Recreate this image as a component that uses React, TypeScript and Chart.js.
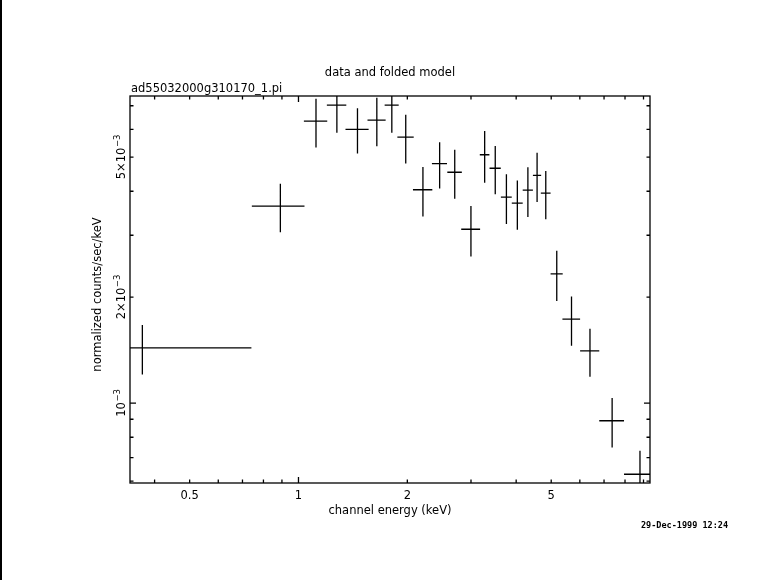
import React, { useEffect, useRef } from "react";
import { Chart, registerables } from "chart.js";
Chart.register(...registerables);

// channel energy (keV), bin centres and half-widths
const energy = [0.37, 0.891, 1.118, 1.277, 1.456, 1.647, 1.812, 1.98, 2.209, 2.457, 2.705, 2.999, 3.273, 3.501, 3.759, 4.03, 4.31, 4.57, 4.83, 5.18, 5.69, 6.4, 7.37, 8.8];
const energyHalfWidth = [0.371, 0.148, 0.083, 0.079, 0.107, 0.095, 0.081, 0.103, 0.136, 0.118, 0.125, 0.18, 0.1, 0.125, 0.13, 0.14, 0.14, 0.12, 0.15, 0.2, 0.32, 0.39, 0.58, 0.85];
// normalized counts/sec/keV and 1-sigma errors
const counts = [1.436e-3, 3.63e-3, 6.33e-3, 7.03e-3, 6.0e-3, 6.37e-3, 7.03e-3, 5.7e-3, 4.04e-3, 4.79e-3, 4.53e-3, 3.12e-3, 5.08e-3, 4.65e-3, 3.85e-3, 3.7e-3, 4.03e-3, 4.44e-3, 3.95e-3, 2.33e-3, 1.733e-3, 1.408e-3, 0.891e-3, 0.628e-3];
const countsError = [0.23e-3, 0.57e-3, 1.0e-3, 1.16e-3, 0.88e-3, 1.0e-3, 1.16e-3, 0.9e-3, 0.65e-3, 0.72e-3, 0.72e-3, 0.51e-3, 0.85e-3, 0.73e-3, 0.62e-3, 0.59e-3, 0.65e-3, 0.71e-3, 0.62e-3, 0.38e-3, 0.277e-3, 0.22e-3, 0.143e-3, 0.104e-3];

const xMin = 0.342;
const xMax = 9.38;
const yMin = 5.93e-4;
const yMax = 7.46e-3;

const xTickValues = [0.5, 1, 2, 5];
const xTickLabels = ["0.5", "1", "2", "5"];
const xMinorTicks = [0.4, 0.5, 0.6, 0.7, 0.8, 0.9, 2, 3, 4, 5, 6, 7, 8, 9];
const xMajorTicks = [1];
const yTickValues = [1e-3, 2e-3, 5e-3];
const yTickLabels = ["10^\u22123", "2\u00d710^\u22123", "5\u00d710^\u22123"];
const yMinorTicks = [0.6e-3, 0.7e-3, 0.8e-3, 0.9e-3, 2e-3, 3e-3, 4e-3, 5e-3, 6e-3, 7e-3];
const yMajorTicks = [1e-3];

const titleText = "data and folded model";
const fileText = "ad55032000g310170_1.pi";
const xTitle = "channel energy (keV)";
const yTitle = "normalized counts/sec/keV";
const dateText = "29-Dec-1999 12:24";

const FONT = '"DejaVu Sans", sans-serif';

const drawPlugin = {
  id: "pgplot",
  afterDatasetsDraw(chart: any) {
    const ctx = chart.ctx as CanvasRenderingContext2D;
    const area = chart.chartArea;
    const xs = chart.scales.x;
    const ys = chart.scales.y;
    ctx.save();
    ctx.strokeStyle = "#000";
    ctx.fillStyle = "#000";
    ctx.lineWidth = 1.3;
    ctx.lineCap = "butt";

    // left page edge line
    ctx.fillRect(0, 0, 2, chart.height);

    // box
    ctx.strokeRect(area.left, area.top, area.right - area.left, area.bottom - area.top);

    // ticks
    const minorLen = 3.5;
    const majorLen = 6;
    ctx.beginPath();
    const xt = xMinorTicks.map((v) => [v, minorLen]).concat(xMajorTicks.map((v) => [v, majorLen]));
    xt.forEach(([v, len]) => {
      const px = xs.getPixelForValue(v);
      ctx.moveTo(px, area.bottom);
      ctx.lineTo(px, area.bottom - len);
      ctx.moveTo(px, area.top);
      ctx.lineTo(px, area.top + len);
    });
    const yt = yMinorTicks.map((v) => [v, minorLen]).concat(yMajorTicks.map((v) => [v, majorLen]));
    yt.forEach(([v, len]) => {
      const py = ys.getPixelForValue(v);
      ctx.moveTo(area.left, py);
      ctx.lineTo(area.left + len, py);
      ctx.moveTo(area.right, py);
      ctx.lineTo(area.right - len, py);
    });
    ctx.stroke();

    // error bars
    ctx.save();
    ctx.beginPath();
    ctx.rect(area.left, area.top, area.right - area.left, area.bottom - area.top);
    ctx.clip();
    ctx.beginPath();
    for (let i = 0; i < energy.length; i++) {
      const px = xs.getPixelForValue(energy[i]);
      const py = ys.getPixelForValue(counts[i]);
      const lo = energy[i] - energyHalfWidth[i];
      const xl = lo > 0 ? xs.getPixelForValue(lo) : area.left - 5;
      const xr = xs.getPixelForValue(energy[i] + energyHalfWidth[i]);
      const yb = counts[i] - countsError[i];
      const ylo = yb > 0 ? ys.getPixelForValue(yb) : area.bottom + 5;
      const yhi = ys.getPixelForValue(counts[i] + countsError[i]);
      ctx.moveTo(xl, py);
      ctx.lineTo(xr, py);
      ctx.moveTo(px, yhi);
      ctx.lineTo(px, ylo);
    }
    ctx.stroke();
    ctx.restore();

    // text
    const cx = (area.left + area.right) / 2;
    ctx.font = `11.5px ${FONT}`;
    ctx.textAlign = "center";
    ctx.textBaseline = "alphabetic";
    ctx.fillText(titleText, cx, 76);
    ctx.textAlign = "left";
    ctx.fillText(fileText, area.left + 1, 92);
    ctx.textAlign = "center";
    xTickValues.forEach((v, i) => {
      ctx.fillText(xTickLabels[i], xs.getPixelForValue(v), 499);
    });
    ctx.fillText(xTitle, cx, 514);

    // y title rotated
    ctx.save();
    ctx.translate(101, (area.top + area.bottom) / 2 + 5);
    ctx.rotate(-Math.PI / 2);
    ctx.textAlign = "center";
    ctx.fillText(yTitle, 0, 0);
    ctx.restore();

    // y tick labels rotated with superscripts
    yTickValues.forEach((v, i) => {
      const [base, sup] = yTickLabels[i].split("^");
      const py = ys.getPixelForValue(v);
      ctx.save();
      ctx.translate(125, py);
      ctx.rotate(-Math.PI / 2);
      ctx.textAlign = "left";
      ctx.font = `11.5px ${FONT}`;
      const wb = ctx.measureText(base).width;
      ctx.font = `8.5px ${FONT}`;
      const ws = ctx.measureText(sup).width;
      const start = -(wb + ws) / 2;
      ctx.font = `11.5px ${FONT}`;
      ctx.fillText(base, start, 0);
      ctx.font = `8.5px ${FONT}`;
      ctx.fillText(sup, start + wb + 0.5, -5);
      ctx.restore();
    });

    // date stamp
    ctx.font = `bold 8.5px "DejaVu Sans Mono", monospace`;
    ctx.textAlign = "left";
    ctx.fillText(dateText, 641, 528);
    ctx.restore();
  },
};

export default function App() {
  const ref = useRef<HTMLCanvasElement | null>(null);
  useEffect(() => {
    document.body.style.margin = "0";
    const canvas = ref.current;
    if (!canvas) return;
    const chart = new Chart(canvas, {
      type: "scatter",
      data: {
        datasets: [
          {
            data: energy.map((x, i) => ({ x, y: counts[i] })),
            pointRadius: 0,
            showLine: false,
          },
        ],
      },
      options: {
        animation: false,
        responsive: false,
        devicePixelRatio: 1,
        layout: { padding: { left: 130, right: 131, top: 96, bottom: 97 } },
        plugins: { legend: { display: false }, tooltip: { enabled: false } },
        scales: {
          x: {
            type: "logarithmic",
            min: xMin,
            max: xMax,
            bounds: "data",
            display: false,
            afterBuildTicks: (s: any) => {
              s.min = xMin;
              s.max = xMax;
            },
          },
          y: {
            type: "logarithmic",
            min: yMin,
            max: yMax,
            bounds: "data",
            display: false,
            afterBuildTicks: (s: any) => {
              s.min = yMin;
              s.max = yMax;
            },
          },
        },
      },
      plugins: [drawPlugin],
    });
    return () => chart.destroy();
  }, []);
  return (
    <div style={{ position: "absolute", left: 0, top: 0, width: 781, height: 580, background: "#fff" }}>
      <canvas ref={ref} width={781} height={580} style={{ display: "block" }} />
    </div>
  );
}
